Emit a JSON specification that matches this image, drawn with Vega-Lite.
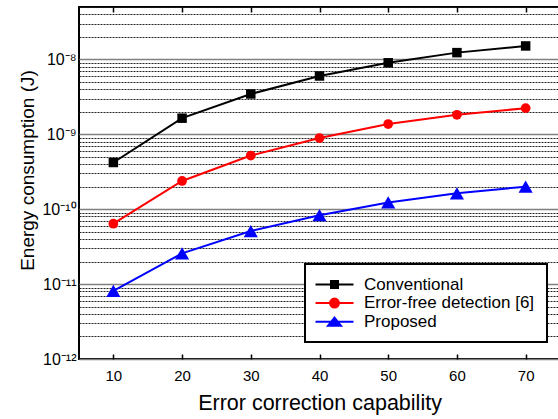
{
  "$schema": "https://vega.github.io/schema/vega-lite/v6.json",
  "width": 481,
  "height": 352,
  "autosize": "none",
  "padding": {"left": 79, "top": 7, "right": 0, "bottom": 60},
  "background": "white",
  "config": {
    "view": {"stroke": "black", "strokeWidth": 2},
    "font": "Liberation Sans",
    "axis": {"labelFont": "Liberation Sans", "titleFont": "Liberation Sans", "labelColor": "black", "titleColor": "black", "titleFontWeight": "normal"}
  },
  "data": {
    "values": [
      {"cap": 10, "series": "Conventional", "energy": 4.2e-10},
      {"cap": 20, "series": "Conventional", "energy": 1.64e-9},
      {"cap": 30, "series": "Conventional", "energy": 3.45e-9},
      {"cap": 40, "series": "Conventional", "energy": 6.0e-9},
      {"cap": 50, "series": "Conventional", "energy": 9.0e-9},
      {"cap": 60, "series": "Conventional", "energy": 1.23e-8},
      {"cap": 70, "series": "Conventional", "energy": 1.51e-8},
      {"cap": 10, "series": "Error-free detection [6]", "energy": 6.4e-11},
      {"cap": 20, "series": "Error-free detection [6]", "energy": 2.38e-10},
      {"cap": 30, "series": "Error-free detection [6]", "energy": 5.2e-10},
      {"cap": 40, "series": "Error-free detection [6]", "energy": 8.9e-10},
      {"cap": 50, "series": "Error-free detection [6]", "energy": 1.37e-9},
      {"cap": 60, "series": "Error-free detection [6]", "energy": 1.82e-9},
      {"cap": 70, "series": "Error-free detection [6]", "energy": 2.23e-9},
      {"cap": 10, "series": "Proposed", "energy": 8.1e-12},
      {"cap": 20, "series": "Proposed", "energy": 2.57e-11},
      {"cap": 30, "series": "Proposed", "energy": 5.1e-11},
      {"cap": 40, "series": "Proposed", "energy": 8.3e-11},
      {"cap": 50, "series": "Proposed", "energy": 1.23e-10},
      {"cap": 60, "series": "Proposed", "energy": 1.63e-10},
      {"cap": 70, "series": "Proposed", "energy": 2.0e-10}
    ]
  },
  "resolve": {"axis": {"x": "independent"}},
  "layer": [
    {
      "mark": {"type": "line", "strokeWidth": 2},
      "encoding": {
        "x": {
          "field": "cap", "type": "quantitative",
          "scale": {"domain": [5, 75], "nice": false, "zero": false},
          "axis": {
            "orient": "bottom", "title": "Error correction capability", "values": [10, 20, 30, 40, 50, 60, 70],
            "grid": false, "domain": false, "ticks": true, "tickSize": -5, "tickColor": "black", "tickWidth": 1.5,
            "labelFontSize": 15, "labelPadding": 14, "titleFontSize": 21.5, "titlePadding": 9
          }
        },
        "y": {
          "field": "energy", "type": "quantitative",
          "scale": {"type": "log", "domain": [1e-12, 5e-8], "nice": false},
          "axis": {
            "title": "Energy consumption (J)", "titleFontSize": 19, "titleY": 163,
            "domain": false, "ticks": false, "labelPadding": 3, "labelFontSize": 16,
            "values": [1e-12, 2e-12, 3e-12, 4e-12, 5e-12, 6e-12, 7e-12, 8e-12, 9e-12,
                       1e-11, 2e-11, 3e-11, 4e-11, 5e-11, 6e-11, 7e-11, 8e-11, 9e-11,
                       1e-10, 2e-10, 3e-10, 4e-10, 5e-10, 6e-10, 7e-10, 8e-10, 9e-10,
                       1e-9, 2e-9, 3e-9, 4e-9, 5e-9, 6e-9, 7e-9, 8e-9, 9e-9,
                       1e-8, 2e-8, 3e-8, 4e-8, 5e-8],
            "labelExpr": "abs(log(datum.value)/LN10 - round(log(datum.value)/LN10)) > 0.01 ? '' : round(log(datum.value)/LN10) == -8 ? '10⁻⁸' : round(log(datum.value)/LN10) == -9 ? '10⁻⁹' : round(log(datum.value)/LN10) == -10 ? '10⁻¹⁰' : round(log(datum.value)/LN10) == -11 ? '10⁻¹¹' : '10⁻¹²'",
            "grid": true,
            "gridColor": {"condition": {"test": "abs(log(datum.value)/LN10 - round(log(datum.value)/LN10)) < 0.01", "value": "#808080"}, "value": "#222222"},
            "gridDash": {"condition": {"test": "abs(log(datum.value)/LN10 - round(log(datum.value)/LN10)) < 0.01", "value": []}, "value": [2, 1]},
            "gridWidth": {"condition": {"test": "abs(log(datum.value)/LN10 - round(log(datum.value)/LN10)) < 0.01", "value": 1.5}, "value": 1},
            "gridOpacity": 1
          }
        },
        "color": {
          "field": "series", "type": "nominal",
          "scale": {"domain": ["Conventional", "Error-free detection [6]", "Proposed"], "range": ["#000000", "#ff0000", "#0000ff"]},
          "legend": {
            "title": null, "orient": "none", "legendX": 226, "legendY": 257,
            "padding": 12, "fillColor": "white", "strokeColor": "black",
            "labelFont": "Liberation Sans", "labelFontSize": 17, "labelColor": "black", "labelLimit": 400,
            "rowPadding": 0.6, "symbolSize": 100, "symbolOffset": 9, "labelOffset": 21,
            "encode": {
              "legend": {"update": {"strokeWidth": {"value": 2}}},
              "symbols": {"update": {
                "shape": {"signal": "datum.value === 'Conventional' ? 'M-3.8,0H3.8M-0.7,-0.7H0.7V0.7H-0.7Z' : datum.value === 'Proposed' ? 'M-3.8,0H3.8M0,-0.8L1.3,0.8H-1.3Z' : 'M-3.8,0H3.8M-0.9,0A0.9,0.9,0,1,0,0.9,0A0.9,0.9,0,1,0,-0.9,0Z'"},
                "fill": {"signal": "datum.value === 'Conventional' ? '#000000' : datum.value === 'Proposed' ? '#0000ff' : '#ff0000'"},
                "stroke": {"signal": "datum.value === 'Conventional' ? '#000000' : datum.value === 'Proposed' ? '#0000ff' : '#ff0000'"},
                "strokeWidth": {"value": 2},
                "size": {"value": 100},
                "opacity": {"value": 1},
                "fillOpacity": {"value": 1}
              }}
            }
          }
        }
      }
    },
    {
      "transform": [{"filter": "datum.series === 'Conventional'"}],
      "mark": {"type": "point", "filled": true, "opacity": 1, "shape": "square", "color": "#000000", "size": 90},
      "encoding": {
        "x": {
          "field": "cap", "type": "quantitative",
          "scale": {"domain": [5, 75], "nice": false, "zero": false},
          "axis": {"orient": "top", "title": null, "labels": false, "values": [10, 20, 30, 40, 50, 60, 70], "grid": false, "domain": false, "ticks": true, "tickSize": -5, "tickColor": "black", "tickWidth": 1.5}
        },
        "y": {"field": "energy", "type": "quantitative", "scale": {"type": "log", "domain": [1e-12, 5e-8], "nice": false}}
      }
    },
    {
      "transform": [{"filter": "datum.series === 'Error-free detection [6]'"}],
      "mark": {"type": "point", "filled": true, "opacity": 1, "shape": "circle", "color": "#ff0000", "size": 95},
      "encoding": {
        "x": {"field": "cap", "type": "quantitative", "scale": {"domain": [5, 75], "nice": false, "zero": false}, "axis": null},
        "y": {"field": "energy", "type": "quantitative", "scale": {"type": "log", "domain": [1e-12, 5e-8], "nice": false}}
      }
    },
    {
      "transform": [{"filter": "datum.series === 'Proposed'"}],
      "mark": {"type": "point", "filled": true, "opacity": 1, "shape": "triangle-up", "color": "#0000ff", "size": 200},
      "encoding": {
        "x": {"field": "cap", "type": "quantitative", "scale": {"domain": [5, 75], "nice": false, "zero": false}, "axis": null},
        "y": {"field": "energy", "type": "quantitative", "scale": {"type": "log", "domain": [1e-12, 5e-8], "nice": false}}
      }
    }
  ]
}
